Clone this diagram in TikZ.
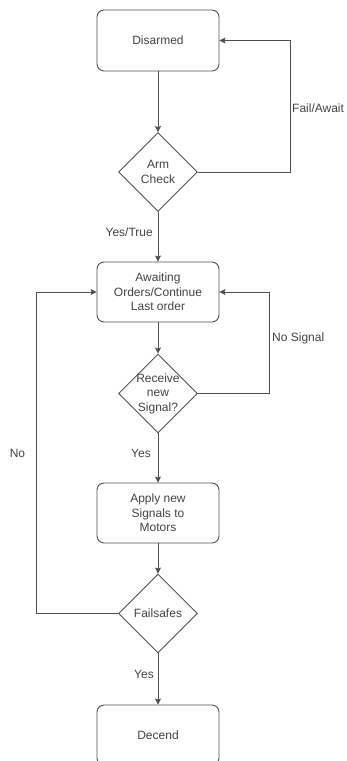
\documentclass[tikz,border=0pt]{standalone}
\usepackage{fontspec}
\setmainfont{Liberation Sans}
\usetikzlibrary{shapes.geometric,arrows.meta}
\definecolor{linec}{HTML}{505050}
\definecolor{textc}{HTML}{444444}
\begin{document}
\begin{tikzpicture}[x=1pt,y=1pt,
  every node/.style={font=\fontsize{12}{14.5}\selectfont, text=textc},
  stepbox/.style={draw=linec, line width=0.9pt, rounded corners=7pt, minimum width=122pt, minimum height=61pt, inner sep=0pt, align=center},
  decision/.style={draw=linec, line width=0.9pt, diamond, minimum width=79pt, minimum height=79pt, inner sep=0pt},
  conn/.style={draw=linec, line width=0.9pt, -{Stealth[length=6pt,width=6pt,inset=1pt]}},
  lbl/.style={inner sep=0pt}]
\useasboundingbox (0,0) rectangle (346,-761);
\clip (0,0) rectangle (346,-761);
\fill[white] (0,0) rectangle (346,-761);

\node[stepbox] (dis) at (158,-40.5) {Disarmed};
\node[decision, label={[align=center,text=textc,font=\fontsize{12}{14.5}\selectfont]center:Arm\\Check}] (arm) at (158,-172) {};
\node[stepbox, minimum height=60pt] (await) at (158,-292) {Awaiting\\Orders/Continue\\Last order};
\node[decision, label={[align=center,text=textc,font=\fontsize{12}{14.5}\selectfont]center:Receive\\new\\Signal?}] (recv) at (158,-393.5) {};
\node[stepbox, minimum height=60pt] (apply) at (158,-513) {Apply new\\Signals to\\Motors};
\node[decision, label={[align=center,text=textc,font=\fontsize{12}{14.5}\selectfont]center:Failsafes}] (fail) at (158,-613.5) {};
\node[stepbox, minimum height=60pt] (desc) at (158,-735) {Decend};

\draw[conn] (dis) -- (arm);
\draw[conn] (arm) -- (await);
\draw[conn] (await) -- (recv);
\draw[conn] (recv) -- (apply);
\draw[conn] (apply) -- (fail);
\draw[conn] (fail) -- (desc);
\draw[conn] (arm.east) -- ++(92,0) |- (dis.east);
\draw[conn] (recv.east) -- ++(71,0) |- (await.east);
\draw[conn] (fail.west) -- ++(-82,0) |- (await.west);

\node[lbl, anchor=west] (lfail) at (292,-108) {Fail/Await};
\node[lbl, anchor=east] (lyt) at (153,-232) {Yes/True};
\node[lbl, anchor=west] (lns) at (272,-338) {No Signal};
\node[lbl, anchor=east] (ly1) at (151,-453) {Yes};
\node[lbl] (lno) at (17.5,-453) {No};
\node[lbl, anchor=east] (ly2) at (154,-674) {Yes};
\end{tikzpicture}
\end{document}
